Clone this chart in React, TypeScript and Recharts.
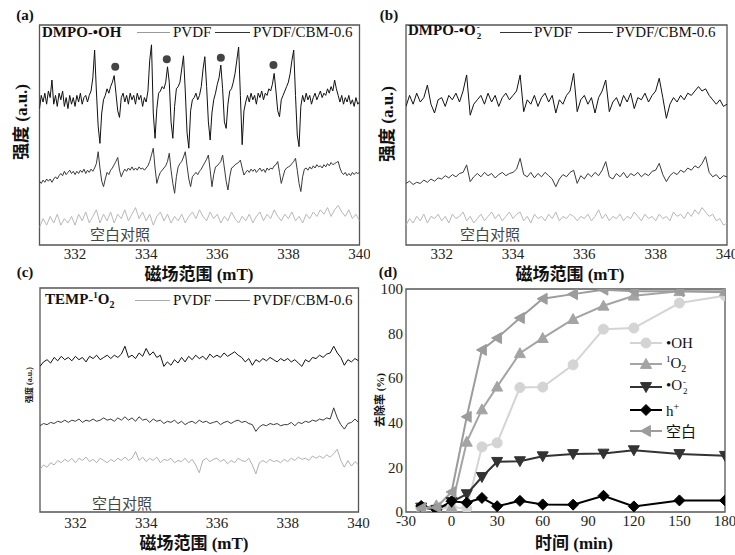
import type { ReactNode } from 'react'
import { LineChart, Line, XAxis, YAxis, ReferenceArea, ReferenceDot } from 'recharts'

const SERIF = '"Liberation Serif", "Times New Roman", serif'
const CJK = '"Noto Sans CJK SC", sans-serif'
const MIXED = '"Liberation Serif", "Noto Sans CJK SC", serif'
const FRAME = '#555'

// EPR sweep: 331-340 mT
const FIELD_START = 331
const FIELD_END = 340
const FIELD_TICKS = [332, 334, 336, 338, 340]
const sweep = (step: number, n: number) =>
  Array.from({ length: n }, (_, i) => +(FIELD_START + i * step).toFixed(2))
const FIELD_FINE = sweep(0.05, 181)
const FIELD = sweep(0.1, 91)

// (a) DMPO-•OH, relative intensity (a.u.), one row per mT
const OH_CBM = [
  -4, 2, -1, 3, -2, 4, 1, 9, -2, 2, -3, 3, 0, 4, -3, 1, -4, 2, -2, 1,
  -3, 2, -1, 3, -2, 1, 2, -1, 2, 4, 10, 22.6, 4, -12, -19.8, -6, 0, 2, 5, 3,
  6, 8, 11, 3, -5, -8, 1, 3, -1, 2, -2, 3, 0, 2, -2, 3, 0, 2, -3, 1,
  -1, 4, 18, 25, -6, -17.5, -4, 3, 4, 6, 5, 8, 15, 8, -10, -17.5, -3, 5, 6, 8,
  14, 20, 4, -15, -22, -5, 0, 1, 3, 0, 2, 6, 14, 19.6, 6, -10, -18.3, -6, 0, 3,
  7, 10, 15.8, 5, -10, -13, -2, 4, 5, 8, 12, 18, 24, 2, -20.4, -5, -1, 2, -1, 3,
  0, 2, -2, 3, 1, 4, 0, 3, 2, 5, 4, 7, 12, 4, -5, -7.7, 0, 2, 4, 6,
  8, 12, 18, 22.6, 2, -16, -21.3, -3, 2, -1, 3, 0, 2, -2, 1, 3, 0, 2, 4, 1,
  3, 2, 5, 3, 6, 4, 9, 5, 2, -1, 2, -2, 1, -1, 2, -2, 0, -3, 1, -2,
  -1,
]
const OH_PVDF = [
  -4, -5, -3.5, -4.5, -3, -4, -3, -4.5, -3, -2, -3, -1.5, -0.5, -1.5, 0.5, -1, 0, 1, -0.5, 0.5,
  -1, 0.5, -0.5, 1, 0, 1.5, -0.5, 1, 0, 1.5, 0.5, 2, 4, 9.4, 2, -4, -6.5, -3, 0, -1,
  1, 2, 3.5, 5, 6.8, 1, -2, 0, 1.5, 0.5, 2, 1, 2.5, 1, 2, 1, 2.5, 1.5, 2, 1,
  2, 3, 5, 8, 11, 2, -5, -2, 0, 1, 2, 3, 5, 8.7, 1, -5, -9.5, -2, 2.5, 4,
  5, 7, 9.4, 3, -3, -6.5, -2, -1, 0, -1, 0.5, 1.5, 3, 4.5, 6, 7.9, 1, -6.5, -1, 2.5,
  3, 4, 5, 7.9, 2, -4, -8, -2, 2, 2.5, 3.5, 4, 4.5, 5.6, 2, -1.2, 0, 1, 0, 1.5,
  0.5, 1.5, 0, 1, 2, 0.5, 1.5, 0, 2, 1, 2, 1.5, 3, 3.5, 4.9, 0, -5, -2, 1, 2,
  2.5, 3, 4, 5, 6.4, 1, -5, -8.7, -2, 1.5, 2, 1, 2.5, 1.5, 3, 2, 3.5, 2.5, 3, 2,
  3.5, 2.5, 4, 3, 4.5, 3.5, 4, 4.5, 5, 2, 0, -1, 0, -1.5, -0.5, -1.5, 0, -1, 0, -0.5,
  0,
]
const OH_BLANK = [
  -3, 1, -2, 2, -1, 3, -2, 1, -1, 2,
  -2, 3, 0, 4, -1, 2, 5, -1, 3, 0,
  4, -1, 3, 1, 5, 0, 3, 6, 1, 4,
  0, 3, -2, 2, 4, 0, 3, -1, 2, 0,
  3, -1, 2, 4, 1, 5, 2, 0, 4, 1,
  3, -1, 2, 0, 4, 1, -1, 2, 0, 3,
  -1, 2, 4, 0, 3, 1, 5, 2, 0, 3,
  1, 4, 0, 2, -1, 3, 1, 4, 2, 5,
  3, 6, 2, 5, 7, 4, 2, 5, 1, 3,
  0,
]
const OH_OFFSETS = [66, 33, 11]
const ADDUCT_FIELD = [333.13, 334.58, 336.1, 337.58]
const ADDUCT_LEVEL = [81, 84.4, 85.1, 81.8]

// (b) DMPO-•O2-
const O2_CBM = [
  -2, 3, -1, 4, 0, 2, 7.7, -1, -5, 1,
  2, -2, 3, 1, 4, 0, 5, 12.3, -6, -1,
  1, 3, -1, 4, 0, 3, -2, 2, 4, 1,
  3, 5, 12.3, -4.4, 1, -1, 3, -2, 2, 4,
  0, 3, -5, 1, -1, 3, 5, 13, -4.4, 1,
  3, -1, 2, -5, 2, 5, 10, -4.4, 0, 2,
  -2, 3, 0, 4, -3, 2, 1, 4, 0, 3,
  5, 10.8, 2, -7.4, -1, 2, 0, 3, 1, 4,
  3, 5, 7, 5, 6, 3, 1, -1, 1, -2,
  -1,
]
const O2_PVDF = [
  -3, -2, -3.5, -2.5, -3, -1.5, -2.5, -1, -2, -0.5,
  -1, 0.5, -0.5, 1, 0, 1.5, 2, 5.4, -2.2, 0,
  1.5, 0, 2, 0.5, 1.5, -0.5, 1, 2, 0.5, 1.5,
  2, 3.5, 8.4, 1, 0, 2, -0.5, 1.5, 0, 2,
  0.5, -1, -4.5, -1, 1, 0, 2, 3, -3, 0.5,
  -1, 1.5, 0, 2, 0.5, 3, 6.9, 0, -1, 1.5,
  0, 2, -0.5, 1.5, 0.5, 2, 0, 1.5, 0.5, 2.5,
  3, 6.1, 1, -2.2, 0.5, 2, 1, 3, 2, 4,
  3, 5, 4, 6, 9.2, 2, 0, 1, -1, 0.5,
  0,
]
const O2_BLANK = [
  -2, 1, -1, 2, 0, 3, -1, 2, 1, 3,
  0, 2, -1, 3, 1, 2, 4, 0, 2, -1,
  1, 3, 0, 2, 4, 1, 3, 0, 2, 4,
  1, 3, 4, 0, 2, -1, 3, 1, 2, 0,
  3, 1, 4, 0, 2, 1, 3, 2, 0, 2,
  1, 3, 0, 2, 5, 1, 3, 0, 2, 1,
  3, 0, 2, 1, 4, 2, 0, 3, 1, 2,
  0, 3, 1, 2, 0, 4, 2, 3, 1, 4,
  2, 5, 3, 6, 4, 2, 3, 0, 1, -2,
  -1,
]
const O2_OFFSETS = [65, 31, 11]

// (c) TEMP-1O2
const SO_CBM = [
  -3, -1, 0, -1.5, 1, -0.5, 1.5, 0, 1, -0.5,
  1.5, 0, 1, -1, 1.5, 0.5, 2, 0, 1, 2,
  0.5, 2, 1, 2.5, 6, 1, 2, 0.5, 3, 1.5,
  5, 2, 3.5, 1, 2, -3, -1, -2.5, 0, -1.5,
  1, -1, 1.5, 0, 2, 0.5, 1.5, 0, 2.5, 1,
  2, 1, 3, 1.5, 2.5, 3.5, 2, 1, -1, 0.5,
  -2.5, 0, -1, 0.5, -0.5, 1, 0, -1, 0.5, -0.5,
  0.5, -1, 0, -1.5, -3, 0, -1, 1, 0.5, 2,
  1, 2.5, 3, 6, 3, 1, -2.5, 0, -1, 0.5,
  -0.5,
]
const SO_PVDF = [
  -1.5, -0.5, -1, 0, -0.5, 0.5, 0, 1, 0, 1,
  0.5, 1.5, 0, 1, 0.5, 1.5, 0.5, 1, 2, 1,
  1.5, 0.5, 2, 1, 2.5, 1, 2, 0.5, 2.5, 1,
  1.5, 0, 1.5, 0.5, 1, -0.5, 0.5, 0, 1, -0.5,
  0.5, -1, 0, 0.5, -0.5, 1, 0, 0.5, -0.5, 0,
  0.5, -1, 0, 0.5, -0.5, 0.5, 1, 0, 0.5, -0.5,
  -1, -4, -2, -1, -1.5, -0.5, -1, -0.5, -1.5, -1,
  -1, 0, -1.5, 0, -0.5, 0.5, 0, 1, 0.5, 1.5,
  1, 2, 1.5, 6.5, 2, -1, -3, -0.5, 0, 1.5,
  0,
]
const SO_BLANK = [
  -3, -1, -2, 0, -1, 1, 0, 1.5, 0.5, 2,
  0, 2, 1, 2.5, 0.5, 1.5, 0, 2, 1, 0,
  1.5, 0.5, 2, 1, 2.5, 1, 2, 5, 1, 2.5,
  0.5, 2, 1, 2.5, 0, 1.5, 1, 2, 0, 1,
  0.5, 2, 0, 1.5, -1, -4.5, 1, 2, 0.5, 1.5,
  2, 0.5, 1.5, -0.5, 1, 0, 2, 1, 0.5, 2,
  -1, -5, 0, 1, 0, 1.5, 0.5, 1, 0, 1.5,
  0.5, 2, 1, 2.5, 1.5, 2, 1, 3, 2, 3,
  2, 3.5, 2.5, 4, 6, 1, -2, 1, -1.5, 0.5,
  -1,
]
const SO_OFFSETS = [68, 40, 22]

// (d) removal (%) vs time (min)
const TIME = [-20, -10, 0, 10, 20, 30, 45, 60, 80, 100, 120, 150, 180]
const TIME_TICKS = [-30, 0, 30, 60, 90, 120, 150, 180]
const REMOVAL_TICKS = [0, 20, 40, 60, 80, 100]
const OH_REMOVAL = [2, 1.2, 2, 1.7, 29.2, 31, 55.8, 56, 66, 82, 82.5, 93.7, 97]
const SINGLET_REMOVAL = [1.5, 3, 2.2, 31.5, 46, 56.2, 71.2, 78, 86.5, 92.5, 97, 99, 99]
const SUPEROXIDE_REMOVAL = [2, 1, 4.5, 8, 15.7, 22.5, 22.8, 25, 26, 26.2, 27.7, 26, 25.2]
const HOLE_REMOVAL = [2.7, 1, 4.8, 4.2, 6.3, 2.6, 5, 3.4, 3.3, 7.3, 2.5, 5.2, 5.2]
const BLANK_REMOVAL = [1.7, 2, 9, 42.7, 72.7, 78, 87, 95.6, 97.7, 99.7, 99, 99, 98.5]

type Shape = 'circle' | 'up' | 'down' | 'diamond' | 'left'

function Stack({ top, bottom }: { top: string; bottom: string }) {
  return (
    <span style={{ display: 'inline-flex', flexDirection: 'column', fontSize: 9, lineHeight: '9px', verticalAlign: 'middle', marginLeft: 1 }}>
      <span>{top}</span>
      <span>{bottom}</span>
    </span>
  )
}

const SCAVENGERS: { key: string; label: ReactNode; values: number[]; color: string; shape: Shape }[] = [
  { key: 'oh', label: <>•OH</>, values: OH_REMOVAL, color: '#d4d4d4', shape: 'circle' },
  { key: 'so', label: <><sup style={{ fontSize: 9 }}>1</sup>O<sub style={{ fontSize: 10 }}>2</sub></>, values: SINGLET_REMOVAL, color: '#a4a4a4', shape: 'up' },
  { key: 'sup', label: <>•O<Stack top="-" bottom="2" /></>, values: SUPEROXIDE_REMOVAL, color: '#333333', shape: 'down' },
  { key: 'h', label: <>h<sup style={{ fontSize: 10 }}>+</sup></>, values: HOLE_REMOVAL, color: '#000000', shape: 'diamond' },
  { key: 'blank', label: <span style={{ fontFamily: CJK, fontSize: 15 }}>空白</span>, values: BLANK_REMOVAL, color: '#9c9c9c', shape: 'left' },
]

function Marker({ cx, cy, shape, color }: { cx?: number; cy?: number; shape: Shape; color: string }) {
  if (cx == null || cy == null) return null
  const s = 5.5
  if (shape === 'circle') return <circle cx={cx} cy={cy} r={5} fill={color} stroke={color} />
  let pts = ''
  if (shape === 'up') pts = `${cx},${cy - s} ${cx + s},${cy + s * 0.8} ${cx - s},${cy + s * 0.8}`
  if (shape === 'down') pts = `${cx},${cy + s} ${cx + s},${cy - s * 0.8} ${cx - s},${cy - s * 0.8}`
  if (shape === 'left') pts = `${cx - s},${cy} ${cx + s * 0.8},${cy - s} ${cx + s * 0.8},${cy + s}`
  if (shape === 'diamond') pts = `${cx},${cy - s} ${cx + s},${cy} ${cx},${cy + s} ${cx - s},${cy}`
  return <polygon points={pts} fill={color} stroke={color} />
}

// serif tick labels, styled through CSS so nothing overrides the family
const BottomTick = ({ x, y, payload }: any) => (
  <text x={x} y={y} dy="0.75em" textAnchor="middle" fill="#222" style={{ fontFamily: SERIF, fontSize: 15 }}>
    {payload.value}
  </text>
)
const LeftTick = ({ x, y, payload }: any) => (
  <text x={x} y={y} dy="0.35em" textAnchor="end" fill="#222" style={{ fontFamily: SERIF, fontSize: 15 }}>
    {payload.value}
  </text>
)

interface Trace { field: number[]; values: number[]; offset: number; color: string }

function EprChart({ left, top, width, height, margin, axisHeight, tickMargin, traces, adducts }: {
  left: number; top: number; width: number; height: number
  margin: { top: number; right: number; bottom: number; left: number }
  axisHeight: number; tickMargin: number; traces: Trace[]; adducts?: boolean
}) {
  return (
    <div style={{ position: 'absolute', left, top }}>
      <LineChart width={width} height={height} margin={margin} style={{ overflow: 'visible' }}>
        <XAxis
          dataKey="x"
          type="number"
          domain={[FIELD_START, FIELD_END]}
          ticks={FIELD_TICKS}
          interval={0}
          allowDataOverflow
          axisLine={false}
          tickLine={false}
          tickSize={0}
          tickMargin={tickMargin}
          height={axisHeight}
          tick={<BottomTick />}
        />
        <YAxis hide type="number" domain={[0, 100]} allowDataOverflow />
        <ReferenceArea x1={FIELD_START} x2={FIELD_END} y1={0} y2={100} fill="none" stroke={FRAME} strokeWidth={1.3} />
        {traces.map((tr, i) => (
          <Line
            key={i}
            data={tr.field.map((x, j) => ({ x, y: tr.values[j] + tr.offset }))}
            dataKey="y"
            type="linear"
            stroke={tr.color}
            strokeWidth={1}
            dot={false}
            activeDot={false}
            isAnimationActive={false}
          />
        ))}
        {adducts && ADDUCT_FIELD.map((f, i) => (
          <ReferenceDot key={i} x={f} y={ADDUCT_LEVEL[i]} r={4} fill="#444" stroke="none" />
        ))}
      </LineChart>
    </div>
  )
}

function Text({ x, y, children, size = 15, bold = false, color = '#111', center = false, rotate = false, family = SERIF }: {
  x: number; y: number; children: ReactNode; size?: number; bold?: boolean; color?: string
  center?: boolean; rotate?: boolean; family?: string
}) {
  const tf = rotate ? 'translate(-50%, -50%) rotate(-90deg)' : center ? 'translate(-50%, -50%)' : 'translateY(-50%)'
  return (
    <div style={{
      position: 'absolute', left: x, top: y, transform: tf, whiteSpace: 'nowrap', lineHeight: 1,
      fontSize: size, fontWeight: bold ? 700 : 400, color, fontFamily: family,
    }}>{children}</div>
  )
}

const Dash = ({ x1, x2, y, color }: { x1: number; x2: number; y: number; color: string }) => (
  <div style={{ position: 'absolute', left: x1, top: y, width: x2 - x1, borderTop: `1.3px solid ${color}` }} />
)

function Header({ x, y, name, dashes, texts }: { x: number; y: number; name: ReactNode; dashes: [number, number, string][]; texts: number[] }) {
  return (
    <>
      <Text x={x} y={y} bold>{name}</Text>
      {dashes.map(([a, b, c], i) => <Dash key={i} x1={a} x2={b} y={y} color={c} />)}
      <Text x={texts[0]} y={y}>PVDF</Text>
      <Text x={texts[1]} y={y}>PVDF/CBM-0.6</Text>
    </>
  )
}

export default function App() {
  const removalData = TIME.map((t, i) => {
    const row: Record<string, number> = { t }
    SCAVENGERS.forEach(s => { row[s.key] = s.values[i] })
    return row
  })

  return (
    <div style={{ position: 'absolute', left: 0, top: 0, width: 735, height: 555, background: '#fff', overflow: 'hidden', fontFamily: SERIF }}>
      <EprChart
        left={0} top={0} width={370} height={270}
        margin={{ top: 25, right: 10.5, bottom: 5, left: 39.5 }}
        axisHeight={20} tickMargin={3} adducts
        traces={[
          { field: FIELD, values: OH_BLANK, offset: OH_OFFSETS[2], color: '#b8b8b8' },
          { field: FIELD_FINE, values: OH_PVDF, offset: OH_OFFSETS[1], color: '#3a3a3a' },
          { field: FIELD_FINE, values: OH_CBM, offset: OH_OFFSETS[0], color: '#111' },
        ]}
      />
      <EprChart
        left={370} top={0} width={365} height={270}
        margin={{ top: 25, right: 8, bottom: 5, left: 36 }}
        axisHeight={20} tickMargin={3}
        traces={[
          { field: FIELD, values: O2_BLANK, offset: O2_OFFSETS[2], color: '#b8b8b8' },
          { field: FIELD, values: O2_PVDF, offset: O2_OFFSETS[1], color: '#3a3a3a' },
          { field: FIELD, values: O2_CBM, offset: O2_OFFSETS[0], color: '#111' },
        ]}
      />
      <EprChart
        left={0} top={270} width={370} height={285}
        margin={{ top: 18, right: 11.5, bottom: 18, left: 40 }}
        axisHeight={25} tickMargin={5}
        traces={[
          { field: FIELD, values: SO_BLANK, offset: SO_OFFSETS[2], color: '#b0b0b0' },
          { field: FIELD, values: SO_PVDF, offset: SO_OFFSETS[1], color: '#3a3a3a' },
          { field: FIELD, values: SO_CBM, offset: SO_OFFSETS[0], color: '#111' },
        ]}
      />

      <div style={{ position: 'absolute', left: 370, top: 270 }}>
        <LineChart width={365} height={285} data={removalData} margin={{ top: 19, right: 10, bottom: 18, left: 6 }}>
          <XAxis
            dataKey="t" type="number" domain={[-30, 180]} ticks={TIME_TICKS} interval={0} allowDataOverflow
            axisLine={false} tickLine={false} tickSize={0} tickMargin={3} height={25}
            tick={<BottomTick />}
          />
          <YAxis
            type="number" domain={[0, 100]} ticks={REMOVAL_TICKS} interval={0} allowDataOverflow
            axisLine={false} tickLine={false} tickSize={0} tickMargin={3} width={30}
            tick={<LeftTick />}
          />
          <ReferenceArea x1={-30} x2={180} y1={0} y2={100} fill="none" stroke={FRAME} strokeWidth={1.3} />
          {SCAVENGERS.map(s => (
            <Line
              key={s.key}
              dataKey={s.key}
              type="linear"
              stroke={s.color}
              strokeWidth={2}
              activeDot={false}
              isAnimationActive={false}
              dot={(p: any) => <Marker key={`${s.key}-${p.index}`} cx={p.cx} cy={p.cy} shape={s.shape} color={s.color} />}
            />
          ))}
        </LineChart>
      </div>

      {/* panel letters */}
      <Text x={25} y={15} bold center>(a)</Text>
      <Text x={389} y={15} bold center>(b)</Text>
      <Text x={25} y={272} bold center>(c)</Text>
      <Text x={388} y={272} bold center>(d)</Text>

      {/* in-panel legends */}
      <Header x={42} y={32} name={<>DMPO-•OH</>}
        dashes={[[137, 170, '#9a9a9a'], [215, 250, '#333']]} texts={[173, 253]} />
      <Header x={408} y={32} name={<>DMPO-•O<Stack top="-" bottom="2" /></>}
        dashes={[[500, 532, '#333'], [578, 613, '#333']]} texts={[534, 616]} />
      <Header x={45} y={300} name={<>TEMP-<sup style={{ fontSize: 9 }}>1</sup>O<sub style={{ fontSize: 10 }}>2</sub></>}
        dashes={[[135, 170, '#aaa'], [215, 250, '#555']]} texts={[173, 253]} />

      <Text x={90} y={233} family={CJK} color="#444">空白对照</Text>
      <Text x={460} y={233} family={CJK} color="#444">空白对照</Text>
      <Text x={92} y={502} family={CJK} color="#444">空白对照</Text>

      {/* axis titles */}
      <Text x={199} y={274} size={17} bold center family={MIXED}>磁场范围 (mT)</Text>
      <Text x={570} y={274} size={17} bold center family={MIXED}>磁场范围 (mT)</Text>
      <Text x={194} y={543} size={17} bold center family={MIXED}>磁场范围 (mT)</Text>
      <Text x={574} y={543} size={17} bold center family={MIXED}>时间 (min)</Text>
      <Text x={21} y={122} size={17} bold rotate family={MIXED}>强度 (a.u.)</Text>
      <Text x={387} y={124} size={17} bold rotate family={MIXED}>强度 (a.u.)</Text>
      <Text x={30} y={385} size={8} bold rotate family={MIXED}>强度 (a.u.)</Text>
      <Text x={380} y={400} size={11} bold rotate family={MIXED}>去除率 (%)</Text>

      {/* (d) legend */}
      {SCAVENGERS.map((s, i) => {
        const y = [343, 364, 387, 410, 431][i]
        return (
          <div key={s.key}>
            <svg style={{ position: 'absolute', left: 628, top: y - 8 }} width={36} height={16}>
              <line x1={2} x2={34} y1={8} y2={8} stroke={s.color} strokeWidth={2} />
              <Marker cx={18} cy={8} shape={s.shape} color={s.color} />
            </svg>
            <Text x={666} y={y} size={15}>{s.label}</Text>
          </div>
        )
      })}
    </div>
  )
}
